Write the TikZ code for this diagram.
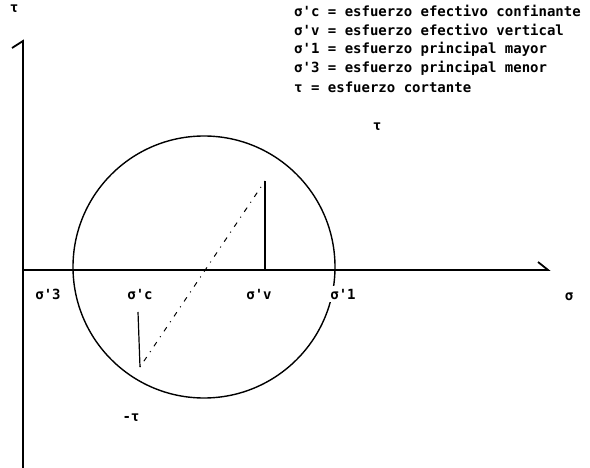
\documentclass[tikz,border=0pt]{standalone}
\usepackage{fontspec}
\newfontfamily\plotfont{DejaVu Sans Mono}
\tikzset{
  lbl/.style={font=\plotfont\bfseries\fontsize{14}{16}\selectfont, inner sep=1pt},
  axis/.style={line width=1.8pt},
  mohr/.style={line width=1.4pt}
}
\begin{document}
\begin{tikzpicture}[x=1pt, y=-1pt]
  \useasboundingbox (0,0) rectangle (590,468);

  % Axes
  \coordinate (o) at (23,270);
  \coordinate (ytop) at (23,41);
  \coordinate (ybot) at (23,468);
  \coordinate (xend) at (548,270);
  \draw[axis] (ybot) -- (ytop) -- (12,48);
  \draw[axis] (o) -- (xend) -- (538,262);
  \node[lbl] (tauax) at (14,9) {τ};
  \node[lbl] (sigax) at (569,297) {σ};

  % Mohr circle
  \draw[mohr] (204,267) circle[radius=131];

  % Stress points
  \coordinate (ptv) at (265,181);
  \coordinate (basev) at (265,270);
  \coordinate (ptc) at (140,367);
  \coordinate (basec) at (138,312);
  \draw[line width=1.2pt] (basev) -- (ptv);
  \draw[line width=1.2pt] (basec) -- (ptc);
  \draw[line width=1pt, dash pattern=on 1pt off 6pt on 5pt off 6pt] (ptc) -- (ptv);

  % Axis labels
  \node[lbl, fill=white, inner sep=3pt] (s3) at (48,294) {σ'3};
  \node[lbl, fill=white, inner sep=3pt] (sc) at (140,294) {σ'c};
  \node[lbl, fill=white, inner sep=3pt] (sv) at (259,294) {σ'v};
  \node[lbl, fill=white, inner sep=3pt] (s1) at (343,294) {σ'1};
  \node[lbl] (tpos) at (377,127) {τ};
  \node[lbl] (tneg) at (131,418) {-τ};

  % Legend
  \node[lbl, anchor=west] (l1) at (293,11) {σ'c = esfuerzo efectivo confinante};
  \node[lbl, anchor=west] (l2) at (293,30) {σ'v = esfuerzo efectivo vertical};
  \node[lbl, anchor=west] (l3) at (293,49) {σ'1 = esfuerzo principal mayor};
  \node[lbl, anchor=west] (l4) at (293,68) {σ'3 = esfuerzo principal menor};
  \node[lbl, anchor=west] (l5) at (293,87) {τ = esfuerzo cortante};
\end{tikzpicture}
\end{document}
